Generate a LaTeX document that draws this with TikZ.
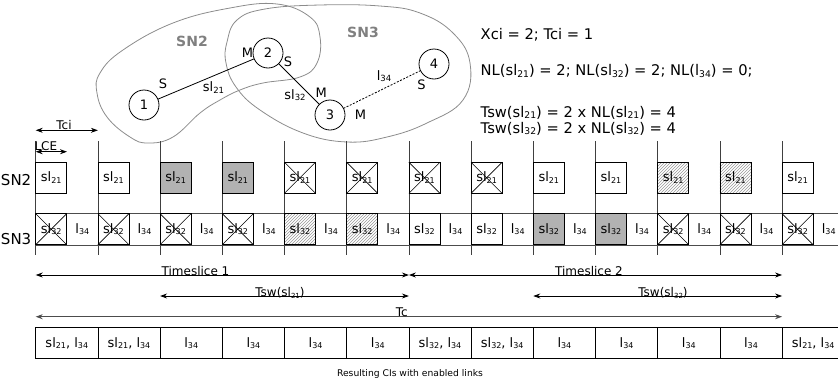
\documentclass[tikz,border=0pt]{standalone}
\usepackage{fontspec}
\setmainfont{DejaVu Sans}
\usetikzlibrary{arrows.meta,patterns}
\newcommand{\fsz}[1]{\fontsize{#1}{#1}\selectfont}
\newcommand{\subt}[2][8]{\raisebox{-1.5pt}{\fsz{#1}#2}}
\newcommand{\LA}{sl\subt{21}, l\subt{34}}
\newcommand{\LB}{sl\subt{32}, l\subt{34}}
\newcommand{\LC}{l\subt{34}}
\begin{document}
\begin{tikzpicture}[x=1pt,y=-1pt,
  every node/.style={inner sep=0pt, outer sep=0pt},
  gridline/.style={draw=black!75, line width=0.8pt},
  cell/.style={draw=black, line width=0.8pt, minimum width=31pt, minimum height=31pt, anchor=north west, font=\fsz{13}},
  cellg/.style={cell, fill=black!30},
  cellh/.style={cell, pattern=north east lines, pattern color=black!40},
  lcell/.style={minimum width=31.2pt, minimum height=31pt, anchor=north west, font=\fsz{13}},
  bcell/.style={draw=black, line width=0.8pt, minimum width=62.2pt, minimum height=31pt, anchor=north west, font=\fsz{13}},
  crossl/.style={line width=0.6pt, draw=black},
  bandline/.style={draw=black!70, line width=1pt},
  blob/.style={draw=black!45, line width=0.8pt},
  vnode/.style={circle, draw=black, line width=0.8pt, minimum size=30pt, font=\fsz{13}},
  glab/.style={font=\fsz{13}},
  snlab/.style={font=\fsz{14}\bfseries, text=black!50},
  rowlab/.style={font=\fsz{15}, anchor=base west},
  info/.style={font=\fsz{14.7}, anchor=base west},
  dimarrow/.style={line width=0.8pt, {Stealth[length=7pt,width=5pt]}-{Stealth[length=7pt,width=5pt]}},
  dimlab/.style={font=\fsz{12}, anchor=base},
]
\useasboundingbox (0,0) rectangle (838,386);
\clip (0,0) rectangle (838,386);

% ---------- sub-network blobs ----------
\draw[blob] plot[smooth cycle, tension=0.7] coordinates {(230,8) (277,4) (310,17) (320,37) (317,63) (300,77) (263,83) (240,90) (220,100) (200,113) (173,137) (148,143) (130,137) (107,117) (97,93) (100,73) (123,50) (173,23)};
\draw[blob] plot[smooth cycle, tension=0.7] coordinates {(237,20) (265,9) (320,5) (380,6) (420,13) (453,33) (470,63) (463,100) (427,123) (387,137) (347,142) (303,133) (260,110) (236,87) (226,63) (227,42)};
\node[snlab] (sn2name) at (192,41.5) {SN2};
\node[snlab] (sn3name) at (363,32) {SN3};

% ---------- graph ----------
\node[vnode] (n1) at (144,105) {1};
\node[vnode] (n2) at (268,53) {2};
\node[vnode] (n3) at (330,115) {3};
\node[vnode] (n4) at (434,64) {4};
\draw[line width=0.8pt] (n1) -- (n2);
\draw[line width=0.8pt] (n2) -- (n3);
\draw[line width=0.8pt, dash pattern=on 2pt off 1.5pt] (n3) -- (n4);
\node[glab] (s1) at (163,84) {S};
\node[glab] (e12) at (213.5,87.5) {sl\subt[8.5]{21}};
\node[glab] (m2) at (247.5,52.5) {M};
\node[glab] (s2) at (288,61.3) {S};
\node[glab] (e23) at (295,95) {sl\subt[8.5]{32}};
\node[glab] (m3a) at (321.3,93) {M};
\node[glab] (m3b) at (360.5,114.5) {M};
\node[glab] (e34) at (384,76) {l\subt[8.5]{34}};
\node[glab] (s4) at (421.5,84.7) {S};

% ---------- info text ----------
\node[info] (i1) at (480.7,39) {Xci = 2; Tci = 1};
\node[info] (i2) at (480.7,75.5) {NL(sl\subt[9.2]{21}) = 2; NL(sl\subt[9.2]{32}) = 2; NL(l\subt[9.2]{34}) = 0;};
\node[info] (i3) at (480.7,117) {Tsw(sl\subt[9.2]{21}) = 2 x NL(sl\subt[9.2]{21}) = 4};
\node[info] (i4) at (480.7,133) {Tsw(sl\subt[9.2]{32}) = 2 x NL(sl\subt[9.2]{32}) = 4};

% ---------- grid lines ----------
\foreach \k in {0,...,12} {
  \pgfmathsetmacro\xk{35.7+62.2*\k}
  \draw[gridline] (\xk,141) -- (\xk,255);
}

% ---------- Tci / LCE ----------
\coordinate (tcia) at (35.7,130.3);
\coordinate (tcib) at (97.9,130.3);
\coordinate (lcea) at (35.7,151.7);
\coordinate (lceb) at (67,151.7);
\draw[dimarrow] (tcia) -- (tcib);
\draw[dimarrow] (lcea) -- (lceb);
\node[dimlab] (tcilab) at (64,129.5) {Tci};
\node[dimlab, anchor=base west] (lcelab) at (34.5,150.5) {LCE};

% ---------- row labels ----------
\node[rowlab] (rl2) at (1,185) {SN2};
\node[rowlab] (rl3) at (1,244) {SN3};

% ---------- SN2 row ----------
\foreach \k in {0,1,8,9,12} {
  \pgfmathsetmacro\xk{35.7+62.2*\k}
  \node[cell] (a\k) at (\xk,162.3) {sl\subt{21}};
}
\foreach \k in {2,3} {
  \pgfmathsetmacro\xk{35.7+62.2*\k}
  \node[cellg] (a\k) at (\xk,162.3) {sl\subt{21}};
}
\foreach \k in {10,11} {
  \pgfmathsetmacro\xk{35.7+62.2*\k}
  \node[cellh] (a\k) at (\xk,162.3) {sl\subt{21}};
}
\foreach \k in {4,5,6,7} {
  \pgfmathsetmacro\xk{35.7+62.2*\k}
  \node[cell] (a\k) at (\xk,162.3) {sl\subt{21}};
  \draw[crossl] (a\k.north west) -- (a\k.south east) (a\k.north east) -- (a\k.south west);
}

% ---------- SN3 row ----------
\draw[bandline] (35.7,213.7) -- (838,213.7);
\draw[bandline] (35.7,245) -- (838,245);
\foreach \k in {6,7} {
  \pgfmathsetmacro\xk{35.7+62.2*\k}
  \node[cell] (b\k) at (\xk,213.7) {sl\subt{32}};
}
\foreach \k in {8,9} {
  \pgfmathsetmacro\xk{35.7+62.2*\k}
  \node[cellg] (b\k) at (\xk,213.7) {sl\subt{32}};
}
\foreach \k in {4,5} {
  \pgfmathsetmacro\xk{35.7+62.2*\k}
  \node[cellh] (b\k) at (\xk,213.7) {sl\subt{32}};
}
\foreach \k in {0,1,2,3,10,11,12} {
  \pgfmathsetmacro\xk{35.7+62.2*\k}
  \node[cell] (b\k) at (\xk,213.7) {sl\subt{32}};
  \draw[crossl] (b\k.north west) -- (b\k.south east) (b\k.north east) -- (b\k.south west);
}
\foreach \k in {0,...,12} {
  \pgfmathsetmacro\xk{35.7+62.2*\k+31}
  \node[lcell] (c\k) at (\xk,213.7) {l\subt{34}};
}

% ---------- dimension arrows ----------
\coordinate (ts1a) at (35.7,275);
\coordinate (ts1b) at (408.9,275);
\coordinate (ts2a) at (408.9,275);
\coordinate (ts2b) at (782.1,275);
\coordinate (tw1a) at (160.1,296);
\coordinate (tw1b) at (408.9,296);
\coordinate (tw2a) at (533.3,296);
\coordinate (tw2b) at (782.1,296);
\coordinate (tca) at (35.7,316.7);
\coordinate (tcb) at (782.1,316.7);
\draw[dimarrow] (ts1a) -- (ts1b);
\draw[dimarrow] (ts2a) -- (ts2b);
\draw[dimarrow] (tw1a) -- (tw1b);
\draw[dimarrow] (tw2a) -- (tw2b);
\draw[dimarrow, draw=black!70, fill=black!70, line width=1pt] (tca) -- (tcb);
\node[dimlab] (ts1lab) at (195.5,275.5) {Timeslice 1};
\node[dimlab] (ts2lab) at (589,275.5) {Timeslice 2};
\node[dimlab] (tw1lab) at (280,296.5) {Tsw(sl\subt[7]{21})};
\node[dimlab] (tw2lab) at (663,296.5) {Tsw(sl\subt[7]{32})};
\node[dimlab] (tclab) at (401.7,316.5) {Tc};

% ---------- resulting CIs ----------
\foreach \k/\t in {0/\LA,1/\LA,2/\LC,3/\LC,4/\LC,5/\LC,6/\LB,7/\LB,8/\LC,9/\LC,10/\LC,11/\LC,12/\LA} {
  \pgfmathsetmacro\xk{35.7+62.2*\k}
  \node[bcell] (r\k) at (\xk,327.7) {\t};
}
\node[font=\fsz{9.2}] (caption) at (410,374) {Resulting CIs with enabled links};
\end{tikzpicture}
\end{document}
